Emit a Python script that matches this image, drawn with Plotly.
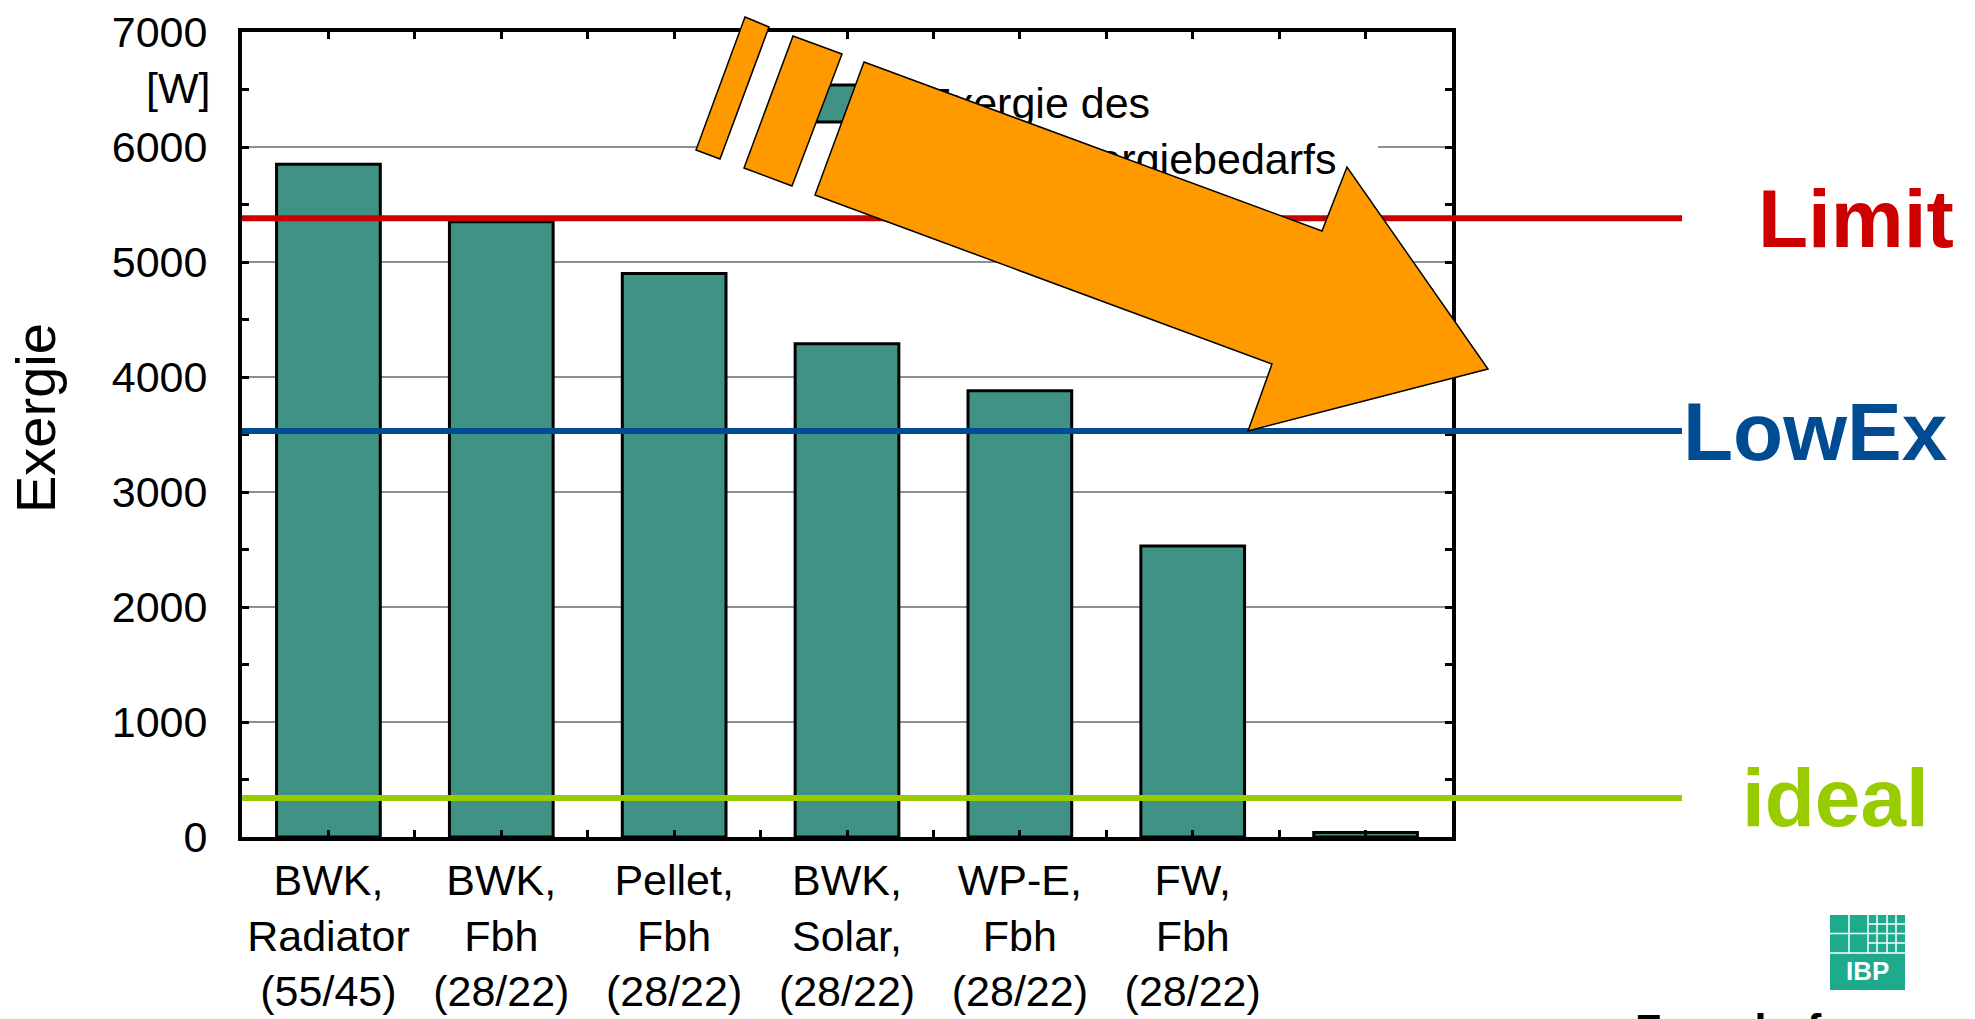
import plotly.graph_objects as go

# ---------------- data ----------------
categories = ["BWK,<br>Radiator<br>(55/45)", "BWK,<br>Fbh<br>(28/22)", "Pellet,<br>Fbh<br>(28/22)",
              "BWK,<br>Solar,<br>(28/22)", "WP-E,<br>Fbh<br>(28/22)", "FW,<br>Fbh<br>(28/22)", ""]
exergy_values = [5850, 5350, 4900, 4290, 3880, 2530, 40]
series_name = "Exergie des<br>Primärenergiebedarfs"
ref_names = ["Limit", "LowEx", "ideal"]
ref_values = [5380, 3530, 340]
ref_colors = ["#CC0000", "#004C93", "#99CC00"]
y_ticks = [0, 1000, 2000, 3000, 4000, 5000, 6000, 7000]

# ---------------- geometry helpers (pixel -> paper) ----------------
W, H = 1975, 1019
L, R, T, B = 242, 1452, 32, 837
def px(x):
    return (x - L) / (R - L)
def py(y):
    return (B - y) / (B - T)
def poly(pts):
    return "M " + " L ".join(f"{px(x):.5f},{py(y):.5f}" for x, y in pts) + " Z"

FONT = "Liberation Sans, Arial, sans-serif"
BAR_COLOR = "#409285"
ORANGE = "#FF9900"

xpos = list(range(len(categories)))

fig = go.Figure()
fig.add_trace(go.Bar(
    x=xpos, y=exergy_values, name=series_name,
    marker=dict(color=BAR_COLOR, line=dict(color="black", width=3)),
    width=0.6, showlegend=False, hoverinfo="skip",
))

# legend text (as a trace so the arrow can cover it)
def xdata(p):
    return -0.5 + (p - L) / (R - L) * len(categories)
def ydata(p):
    return (B - p) / (B - T) * 7000
leg_lines = series_name.split("<br>")
fig.add_trace(go.Scatter(
    x=[xdata(923), xdata(923)], y=[ydata(107), ydata(163)],
    mode="text", text=leg_lines, textposition="middle right",
    textfont=dict(family=FONT, size=43, color="black"),
    cliponaxis=False, showlegend=False, hoverinfo="skip",
))

shapes = []
# grid lines (below)
for v in y_ticks[1:-1]:
    shapes.append(dict(type="line", xref="paper", yref="y", x0=0, x1=1, y0=v, y1=v,
                       line=dict(color="#6a6a6a", width=1.3), layer="below"))
# legend box and symbol
shapes.append(dict(type="rect", xref="paper", yref="paper", x0=px(705), x1=px(1378),
                   y0=py(190), y1=py(50), fillcolor="white", line=dict(width=0), layer="below"))
shapes.append(dict(type="rect", xref="paper", yref="paper", x0=px(790), x1=px(900),
                   y0=py(122), y1=py(85), fillcolor=BAR_COLOR, line=dict(color="black", width=3),
                   layer="below"))
# reference lines
for v, c in zip(ref_values, ref_colors):
    shapes.append(dict(type="line", xref="paper", yref="y", x0=0, x1=px(1682), y0=v, y1=v,
                       line=dict(color=c, width=6), layer="above"))
# arrow with stripes
stripe1 = [(745, 17), (769, 27), (720, 159), (696, 150)]
stripe2 = [(793, 36), (842, 54), (792, 186), (744, 168)]
arrow = [(864, 62), (1322, 231), (1347, 167), (1488, 369), (1248, 431), (1272, 364), (815, 195)]
for p in (stripe1, stripe2, arrow):
    shapes.append(dict(type="path", xref="paper", yref="paper", path=poly(p),
                       fillcolor=ORANGE, line=dict(color="black", width=1.5), layer="above"))
# IBP logo
LOGO = "#1EAA8C"
shapes.append(dict(type="rect", xref="paper", yref="paper", x0=px(1830), x1=px(1905),
                   y0=py(990), y1=py(915), fillcolor=LOGO, line=dict(width=0), layer="above"))
wl = dict(color="white", width=1.5)
logo_lines = [
    (1830, 953, 1905, 953), (1830, 933.5, 1905, 933.5), (1868, 915, 1868, 953),
    (1849, 915, 1849, 953), (1877, 915, 1877, 953), (1887, 915, 1887, 953), (1896, 915, 1896, 953),
    (1868, 924, 1905, 924), (1868, 943, 1905, 943),
]
for x0, y0, x1, y1 in logo_lines:
    shapes.append(dict(type="line", xref="paper", yref="paper", x0=px(x0), x1=px(x1),
                       y0=py(y0), y1=py(y1), line=wl, layer="above"))

annotations = []
label_left = [1756, 1681, 1740]
for name, v, c, xl in zip(ref_names, ref_values, ref_colors, label_left):
    annotations.append(dict(text=f"<b>{name}</b>", xref="paper", yref="y", x=px(xl), y=v,
                            xanchor="left", yanchor="middle", showarrow=False,
                            font=dict(family=FONT, size=82, color=c)))
annotations.append(dict(text="[W]", xref="paper", yref="paper", x=px(212), y=py(88),
                        xanchor="right", yanchor="middle", showarrow=False,
                        font=dict(family=FONT, size=43, color="black")))
annotations.append(dict(text="Exergie", xref="paper", yref="paper", x=px(35), y=py(418),
                        xanchor="center", yanchor="middle", textangle=-90, showarrow=False,
                        font=dict(family=FONT, size=56, color="black")))
annotations.append(dict(text="<b>IBP</b>", xref="paper", yref="paper", x=px(1867), y=py(971),
                        xanchor="center", yanchor="middle", showarrow=False,
                        font=dict(family=FONT, size=26, color="white")))
annotations.append(dict(text="<b>Fraunhofer</b>", xref="paper", yref="paper", x=px(1633), y=py(1003),
                        xanchor="left", yanchor="top", showarrow=False,
                        font=dict(family=FONT, size=43, color="black")))

fig.update_layout(
    width=W, height=H,
    margin=dict(l=L, r=W - R, t=T, b=H - B, pad=0, autoexpand=False),
    paper_bgcolor="white", plot_bgcolor="white",
    font=dict(family=FONT, size=43, color="black"),
    shapes=shapes, annotations=annotations,
    showlegend=False, bargap=0.4,
)
fig.update_xaxes(
    range=[-0.5, len(categories) - 0.5], tickvals=xpos, ticktext=categories,
    showgrid=False, zeroline=False, automargin=False,
    showline=True, linecolor="black", linewidth=4, mirror="ticks",
    ticks="inside", ticklen=7, tickwidth=3, tickcolor="black",
    minor=dict(dtick=0.5, tick0=-0.5, ticks="inside", ticklen=7, tickwidth=3, tickcolor="black"),
    tickfont=dict(family=FONT, size=43), ticklabelstandoff=2,
)
fig.update_yaxes(
    range=[0, 7000], tickvals=y_ticks, ticktext=[str(v) for v in y_ticks],
    showgrid=False, zeroline=False, automargin=False,
    showline=True, linecolor="black", linewidth=4, mirror="ticks",
    ticks="inside", ticklen=7, tickwidth=3, tickcolor="black",
    minor=dict(dtick=500, tick0=0, ticks="inside", ticklen=7, tickwidth=3, tickcolor="black"),
    tickfont=dict(family=FONT, size=43), ticklabelstandoff=22,
)

fig.write_html("out.html", config={"displayModeBar": False},
               post_script="document.body.style.margin='0';")
